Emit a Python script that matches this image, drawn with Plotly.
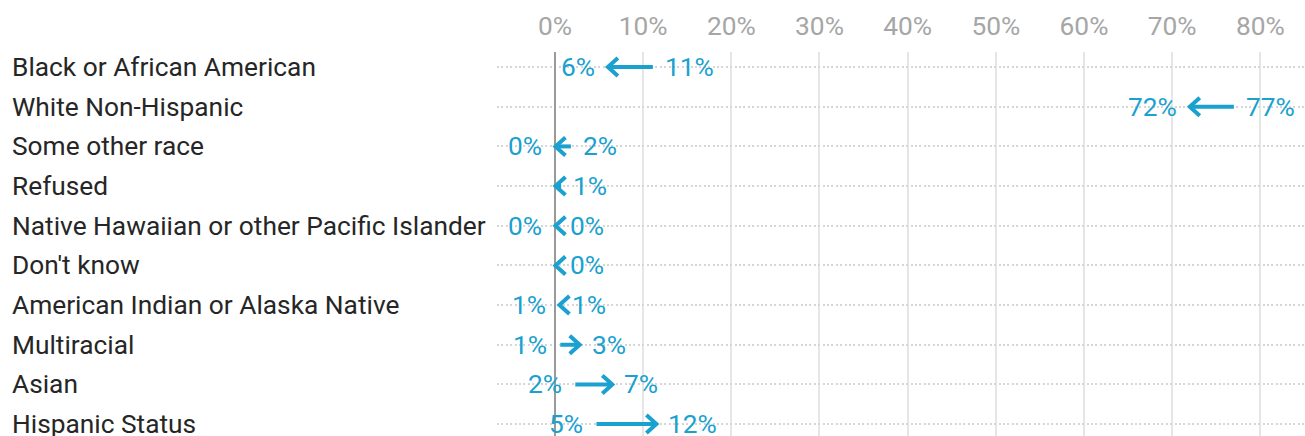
import plotly.graph_objects as go

# =====================
# Data
# =====================
categories = [
    "Black or African American",
    "White Non-Hispanic",
    "Some other race",
    "Refused",
    "Native Hawaiian or other Pacific Islander",
    "Don't know",
    "American Indian or Alaska Native",
    "Multiracial",
    "Asian",
    "Hispanic Status",
]
# share at the arrow tail (from) and head (to), in percent
start_share = [11.1, 77.0, 1.8, 0.7, 0.3, 0.3, 0.6, 0.6, 2.3, 4.7]
end_share = [6.0, 72.0, 0.05, 0.05, 0.05, 0.05, 0.5, 2.8, 6.5, 11.5]
start_labels = ["11%", "77%", "2%", "1%", "0%", "0%", "1%", "1%", "2%", "5%"]
end_labels = ["6%", "72%", "0%", "", "0%", "", "1%", "3%", "7%", "12%"]

tick_values = [0, 10, 20, 30, 40, 50, 60, 70, 80]
tick_labels = ["0%", "10%", "20%", "30%", "40%", "50%", "60%", "70%", "80%"]

# =====================
# Style
# =====================
BLUE = "#1aa1cf"
FONT = "Roboto"
FS = 26.3
W, H = 1305, 436
L, T = 497, 52
HEAD_L = "M10,9L0,0L10,-9"   # chevron pointing left (pixels around the head point)
HEAD_R = "M-10,9L0,0L-10,-9"  # chevron pointing right

fig = go.Figure()

ann = []
shapes = []
for cat, s, e, sl, el in zip(categories, start_share, end_share, start_labels, end_labels):
    # shaft
    fig.add_trace(go.Scatter(
        x=[s, e], y=[cat, cat], mode="lines",
        line=dict(color=BLUE, width=4), hoverinfo="skip", showlegend=False,
    ))
    # head
    shapes.append(dict(
        type="path", xref="x", yref="y", xsizemode="pixel", ysizemode="pixel",
        xanchor=e, yanchor=cat, path=HEAD_L if e < s else HEAD_R,
        line=dict(color=BLUE, width=4), fillcolor="rgba(0,0,0,0)",
    ))
    if e < s:
        left_txt, right_txt, lo, hi = el, sl, e, s
    else:
        left_txt, right_txt, lo, hi = sl, el, s, e
    if left_txt:
        ann.append(dict(x=lo, y=cat, xref="x", yref="y", text=left_txt, showarrow=False,
                        xanchor="right", xshift=-11, font=dict(family=FONT, size=FS, color=BLUE)))
    if right_txt:
        ann.append(dict(x=hi, y=cat, xref="x", yref="y", text=right_txt, showarrow=False,
                        xanchor="left", xshift=10, font=dict(family=FONT, size=FS, color=BLUE)))
    # category label on the left
    ann.append(dict(x=(10 - L) / (W - L), y=cat, xref="paper", yref="y", text=cat,
                    showarrow=False, xanchor="left",
                    font=dict(family=FONT, size=FS, color="#262626")))

fig.update_layout(
    width=W, height=H,
    margin=dict(l=L, r=0, t=T, b=0, pad=0),
    paper_bgcolor="white", plot_bgcolor="white",
    font=dict(family=FONT, size=FS),
    annotations=ann,
    shapes=shapes,
    showlegend=False,
)
fig.update_xaxes(
    side="top", range=[-6.58, 85.07],
    tickvals=tick_values, ticktext=tick_labels,
    tickfont=dict(family=FONT, size=FS, color="#a6a6a6"),
    ticklabelstandoff=11,
    showgrid=True, gridcolor="#e6e6e6", gridwidth=2,
    zeroline=True, zerolinecolor="#9a9a9a", zerolinewidth=2,
    showline=False, ticks="", fixedrange=True,
)
fig.update_yaxes(
    type="category", categoryorder="array", categoryarray=categories,
    range=[9.3, -0.38], showticklabels=False,
    showgrid=True, gridcolor="#d6d6d6", gridwidth=2, griddash="2px,2.4px",
    zeroline=False, showline=False, ticks="", fixedrange=True,
)

fig.write_html("out.html", config={"displayModeBar": False},
               post_script="document.body.style.margin='0';")
